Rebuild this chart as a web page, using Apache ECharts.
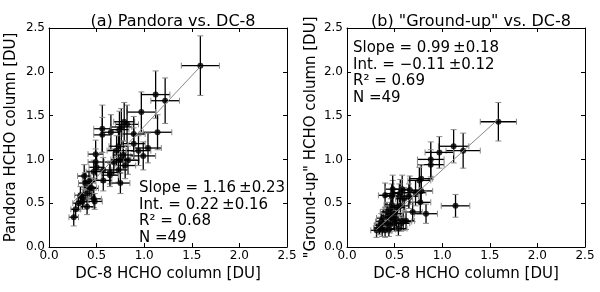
<!DOCTYPE html>
<html>
<head>
<meta charset="utf-8">
<script src="https://cdn.jsdelivr.net/npm/echarts@6/dist/echarts.min.js"></script>
<style>
html,body{margin:0;padding:0;background:#fff;}
#chart{width:600px;height:292px;}
</style>
</head>
<body>
<div id="chart"></div>
<script>
// ---- Data ----
const tickLabels = ['0.0', '0.5', '1.0', '1.5', '2.0', '2.5'];

// Panel (a): Pandora vs. DC-8
const pandoraX = [1.59,1.12,1.22,0.97,1.14,0.82,0.79,0.76,0.74,0.65,0.56,0.56,0.89,0.89,0.94,1.04,0.99,0.83,0.80,0.73,0.71,0.78,0.75,0.68,0.49,0.49,0.50,0.57,0.64,0.73,0.75,0.47,0.57,0.64,0.37,0.38,0.45,0.42,0.40,0.47,0.48,0.36,0.33,0.31,0.28,0.26,0.40,0.35,0.43];
const pandoraY = [2.07,1.74,1.67,1.54,1.31,1.40,1.43,1.37,1.34,1.31,1.35,1.28,1.29,1.18,1.10,1.13,1.04,0.99,0.93,1.15,1.10,1.05,1.00,0.97,1.06,0.97,0.91,0.88,0.85,0.88,0.73,0.86,0.76,0.82,0.81,0.73,0.67,0.75,0.61,0.55,0.52,0.56,0.59,0.50,0.43,0.34,0.46,0.52,0.68];
const pandoraXErr = [0.20,0.15,0.15,0.15,0.15,0.12,0.11,0.11,0.10,0.10,0.09,0.09,0.12,0.12,0.13,0.14,0.13,0.12,0.11,0.10,0.10,0.11,0.10,0.10,0.08,0.08,0.08,0.09,0.09,0.10,0.10,0.08,0.09,0.09,0.07,0.07,0.07,0.07,0.07,0.08,0.08,0.06,0.06,0.06,0.05,0.05,0.07,0.06,0.07];
const pandoraYErr = [0.34,0.27,0.26,0.23,0.20,0.22,0.22,0.21,0.21,0.20,0.27,0.20,0.20,0.18,0.17,0.17,0.16,0.16,0.15,0.18,0.17,0.16,0.16,0.15,0.16,0.15,0.14,0.14,0.13,0.14,0.12,0.13,0.12,0.13,0.13,0.12,0.11,0.12,0.10,0.10,0.09,0.10,0.10,0.09,0.08,0.10,0.09,0.09,0.11];
const pandoraFitX = [0.26, 1.59];
const pandoraFitY = [0.52, 2.06];

// Panel (b): "Ground-up" vs. DC-8
const groundX = [1.59,1.22,1.12,0.97,0.88,0.88,1.14,0.78,0.76,0.78,0.77,0.83,0.69,0.72,0.66,0.58,0.56,0.55,0.48,0.47,0.40,0.62,0.56,0.57,0.59,0.47,0.46,0.42,0.38,0.49,0.45,0.35,0.31,0.40,0.54,0.43,0.50,0.36,0.52,0.44,0.37,0.65,0.48,0.50,0.42,0.53,0.60,0.34,0.46];
const groundY = [1.43,1.10,1.15,1.08,1.00,0.94,0.47,0.78,0.76,0.64,0.51,0.38,0.40,0.62,0.65,0.66,0.62,0.58,0.61,0.58,0.59,0.30,0.47,0.27,0.29,0.48,0.43,0.40,0.33,0.31,0.25,0.25,0.19,0.19,0.21,0.36,0.38,0.29,0.32,0.20,0.20,0.58,0.66,0.27,0.27,0.45,0.55,0.22,0.34];
const groundXErr = [0.19,0.18,0.16,0.15,0.14,0.14,0.15,0.12,0.12,0.12,0.11,0.12,0.10,0.11,0.10,0.09,0.09,0.09,0.08,0.08,0.07,0.09,0.09,0.09,0.09,0.08,0.08,0.07,0.07,0.08,0.07,0.06,0.06,0.07,0.09,0.07,0.08,0.06,0.08,0.07,0.06,0.10,0.08,0.08,0.07,0.08,0.09,0.06,0.07];
const groundYErr = [0.22,0.20,0.19,0.18,0.20,0.17,0.13,0.16,0.15,0.14,0.13,0.11,0.11,0.15,0.16,0.16,0.15,0.14,0.15,0.14,0.14,0.10,0.12,0.09,0.10,0.12,0.12,0.11,0.10,0.10,0.09,0.09,0.08,0.08,0.08,0.11,0.11,0.09,0.10,0.08,0.08,0.14,0.16,0.09,0.09,0.12,0.13,0.08,0.10];
const groundFitX = [0.31, 1.59];
const groundFitY = [0.20, 1.46];

// ---- Chart ----
const FONT = 'DejaVu Sans';
const chart = echarts.init(document.getElementById('chart'), null, {renderer: 'canvas'});

function zip(a, b) { return a.map((v, i) => [v, b[i]]); }
function errData(x, y, ex, ey) { return x.map((v, i) => [v, y[i], ex[i], ey[i]]); }

function errRender(params, api) {
  const x = api.value(0), y = api.value(1), ex = api.value(2), ey = api.value(3);
  const pL = api.coord([x - ex, y]);
  const pR = api.coord([x + ex, y]);
  const pT = api.coord([x, y + ey]);
  const pB = api.coord([x, y - ey]);
  const c = 3;
  const main = {stroke: '#000', lineWidth: 1.3};
  const cap = {stroke: '#8a8a8a', lineWidth: 1};
  return {
    type: 'group',
    children: [
      {type: 'line', shape: {x1: pL[0], y1: pL[1], x2: pR[0], y2: pR[1]}, style: main},
      {type: 'line', shape: {x1: pT[0], y1: pT[1], x2: pB[0], y2: pB[1]}, style: main},
      {type: 'line', shape: {x1: pL[0], y1: pL[1] - c, x2: pL[0], y2: pL[1] + c}, style: cap},
      {type: 'line', shape: {x1: pR[0], y1: pR[1] - c, x2: pR[0], y2: pR[1] + c}, style: cap},
      {type: 'line', shape: {x1: pT[0] - c, y1: pT[1], x2: pT[0] + c, y2: pT[1]}, style: cap},
      {type: 'line', shape: {x1: pB[0] - c, y1: pB[1], x2: pB[0] + c, y2: pB[1]}, style: cap}
    ]
  };
}

function fmt(v) { return tickLabels[Math.round(v / 0.5)] || v.toFixed(1); }

function mainX(gi) {
  return {
    gridIndex: gi, type: 'value', min: 0, max: 2.5, interval: 0.5, position: 'bottom',
    name: 'DC-8 HCHO column [DU]', nameLocation: 'middle', nameGap: 19,
    nameTextStyle: {fontFamily: FONT, fontSize: 15, color: '#000'},
    axisLine: {show: true, onZero: false, lineStyle: {color: '#000', width: 1}},
    axisTick: {show: true, inside: true, length: 4, lineStyle: {color: '#000'}},
    axisLabel: {fontFamily: FONT, fontSize: 12, color: '#000', margin: 3, formatter: fmt},
    splitLine: {show: false}
  };
}
function topX(gi) {
  return {
    gridIndex: gi, type: 'value', min: 0, max: 2.5, interval: 0.5, position: 'top',
    axisLine: {show: true, onZero: false, lineStyle: {color: '#000', width: 1}},
    axisTick: {show: true, inside: true, length: 4, lineStyle: {color: '#000'}},
    axisLabel: {show: false}, splitLine: {show: false}
  };
}
function mainY(gi, name, gap) {
  return {
    gridIndex: gi, type: 'value', min: 0, max: 2.5, interval: 0.5, position: 'left',
    name: name, nameLocation: 'middle', nameGap: gap,
    nameTextStyle: {fontFamily: FONT, fontSize: 15, color: '#000'},
    axisLine: {show: true, onZero: false, lineStyle: {color: '#000', width: 1}},
    axisTick: {show: true, inside: true, length: 4, lineStyle: {color: '#000'}},
    axisLabel: {fontFamily: FONT, fontSize: 12, color: '#000', margin: 4, formatter: fmt},
    splitLine: {show: false}
  };
}
function rightY(gi) {
  return {
    gridIndex: gi, type: 'value', min: 0, max: 2.5, interval: 0.5, position: 'right',
    axisLine: {show: true, onZero: false, lineStyle: {color: '#000', width: 1}},
    axisTick: {show: true, inside: true, length: 4, lineStyle: {color: '#000'}},
    axisLabel: {show: false}, splitLine: {show: false}
  };
}

function annot(left, top, lines) {
  return lines.map((t, i) => ({
    type: 'text', left: left, top: top + i * 16.4,
    style: {text: t, font: '15px "DejaVu Sans"', fill: '#000'}
  }));
}

const option = {
  animation: false,
  backgroundColor: '#fff',
  title: [
    {text: '(a) Pandora vs. DC-8', left: 168, top: 9, textAlign: 'center',
     textStyle: {fontFamily: FONT, fontSize: 16, fontWeight: 'normal', color: '#000'}},
    {text: '(b) "Ground-up" vs. DC-8', left: 466, top: 9, textAlign: 'center',
     textStyle: {fontFamily: FONT, fontSize: 16, fontWeight: 'normal', color: '#000'}}
  ],
  grid: [
    {left: 49, top: 28, width: 238, height: 219},
    {left: 347, top: 28, width: 238, height: 219}
  ],
  xAxis: [mainX(0), mainX(1), topX(0), topX(1)],
  yAxis: [mainY(0, 'Pandora HCHO column [DU]', 30), mainY(1, '"Ground-up" HCHO column [DU]', 28), rightY(0), rightY(1)],
  series: [
    {type: 'custom', xAxisIndex: 0, yAxisIndex: 0, renderItem: errRender,
     data: errData(pandoraX, pandoraY, pandoraXErr, pandoraYErr), z: 2, silent: true},
    {type: 'scatter', xAxisIndex: 0, yAxisIndex: 0, data: zip(pandoraX, pandoraY),
     symbol: 'circle', symbolSize: 6, itemStyle: {color: '#000'}, z: 3, silent: true},
    {type: 'line', xAxisIndex: 0, yAxisIndex: 0, data: zip(pandoraFitX, pandoraFitY),
     symbol: 'none', lineStyle: {color: '#888', width: 1}, z: 4, silent: true},
    {type: 'custom', xAxisIndex: 1, yAxisIndex: 1, renderItem: errRender,
     data: errData(groundX, groundY, groundXErr, groundYErr), z: 2, silent: true},
    {type: 'scatter', xAxisIndex: 1, yAxisIndex: 1, data: zip(groundX, groundY),
     symbol: 'circle', symbolSize: 6, itemStyle: {color: '#000'}, z: 3, silent: true},
    {type: 'line', xAxisIndex: 1, yAxisIndex: 1, data: zip(groundFitX, groundFitY),
     symbol: 'none', lineStyle: {color: '#888', width: 1}, z: 4, silent: true}
  ],
  graphic: [].concat(
    annot(139, 181, ['Slope = 1.16\u2009\u00b10.23', 'Int. = 0.22\u2009\u00b10.16', 'R\u00b2 = 0.68', 'N =49']),
    annot(353, 41, ['Slope = 0.99\u2009\u00b10.18', 'Int. = \u22120.11\u2009\u00b10.12', 'R\u00b2 = 0.69', 'N =49'])
  )
};
chart.setOption(option);
</script>
</body>
</html>
